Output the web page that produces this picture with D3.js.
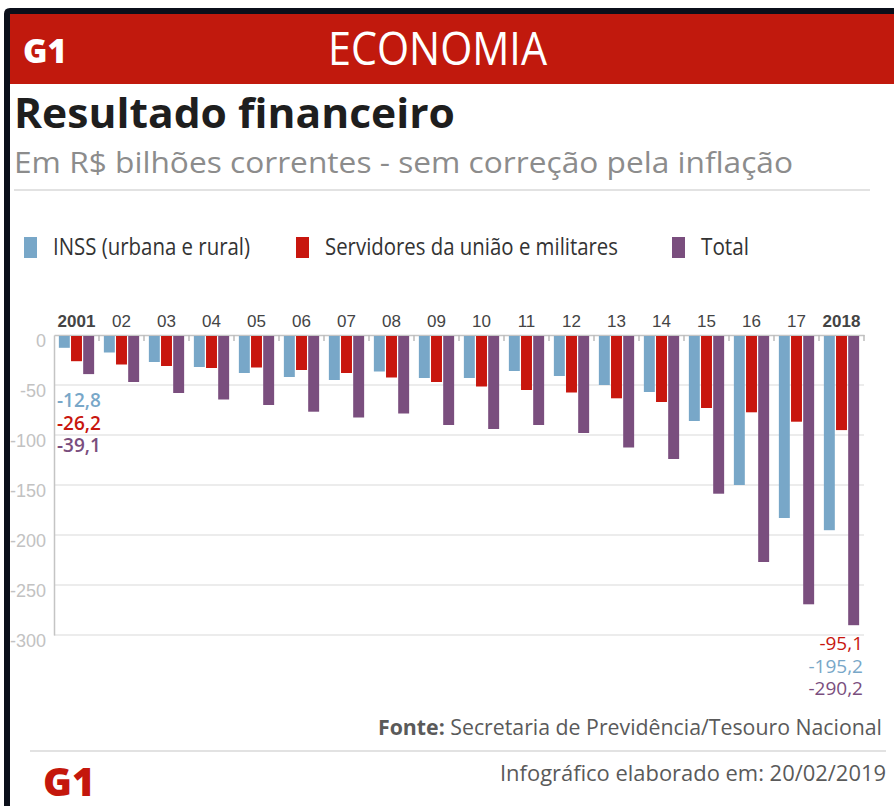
<!DOCTYPE html>
<html>
<head>
<meta charset="utf-8">
<script src="https://cdn.jsdelivr.net/npm/d3@7"></script>
<style>
  body { margin: 0; background: #fff; }
  svg { display: block; font-family: "Open Sans", "Noto Sans", sans-serif; }
</style>
</head>
<body>
<svg id="chart" width="894" height="806"></svg>
<script>
// data (R$ bilhões)
var years = ["2001","02","03","04","05","06","07","08","09","10","11","12","13","14","15","16","17","2018"];
var inss = [-12.8,-17.5,-27,-32,-38,-42,-45,-36.5,-43,-43,-36,-41,-50,-57,-86,-150,-183,-195.2];
var servidores = [-26.2,-29.5,-31,-33,-32.5,-35,-38,-42.5,-47,-51.5,-55,-57.5,-63.3,-67,-73,-77.3,-86.7,-95.1];
var total = [-39.1,-47,-58,-64.5,-70,-76.7,-82.5,-78.5,-90,-94,-90,-98,-112.5,-124,-158.7,-227,-269.3,-290.2];
var seriesNames = ["INSS (urbana e rural)", "Servidores da união e militares", "Total"];
var seriesKeys = ["inss", "serv", "total"];
var colors = ["#78a7c8", "#c8160e", "#7a4e7e"];
var yTicks = [0,-50,-100,-150,-200,-250,-300];

var svg = d3.select("#chart");

// fit a text to a measured width (the original uses a condensed face)
function fit(sel, w) {
  sel.attr("textLength", w).attr("lengthAdjust", "spacingAndGlyphs");
  return sel;
}
// plain hyphen minus, comma decimals
var fmtInt = function(v) { return d3.format("d")(v).replace("\u2212", "-"); };
var fmt = function(v) { return d3.format(".1f")(v).replace("\u2212", "-").replace(".", ","); };

// header
svg.append("rect").attr("x", 10).attr("y", 14).attr("width", 884).attr("height", 70).attr("fill", "#c1190d");
fit(svg.append("text").attr("x", 23).attr("y", 63).attr("fill", "#fff")
  .attr("font-size", 34).attr("font-weight", 800).text("G1"), 44);
fit(svg.append("text").attr("x", 328).attr("y", 65).attr("fill", "#fff")
  .attr("font-size", 46).attr("font-weight", 400).text("ECONOMIA"), 219);

// frame
svg.append("path").attr("d", "M4,806 V14 Q4,8 10,8 H894 V14 H10 V806 Z").attr("fill", "#0b0f1a");

// titles
fit(svg.append("text").attr("x", 14).attr("y", 128).attr("fill", "#1e1e1e")
  .attr("font-size", 42).attr("font-weight", 700).text("Resultado financeiro"), 441);
fit(svg.append("text").attr("x", 14).attr("y", 173).attr("fill", "#8c8c8c")
  .attr("font-size", 29).text("Em R$ bilhões correntes - sem correção pela inflação"), 779);
svg.append("line").attr("x1", 14).attr("x2", 870).attr("y1", 190).attr("y2", 190)
  .attr("stroke", "#e2e2e2").attr("stroke-width", 2);

// legend
var legX = [24, 296, 672];
var legW = [197, 293, 48];
seriesNames.forEach(function(name, i) {
  svg.append("rect").attr("x", legX[i]).attr("y", 237).attr("width", 13).attr("height", 21).attr("fill", colors[i]);
  fit(svg.append("text").attr("x", legX[i] + 29).attr("y", 255).attr("fill", "#333")
    .attr("font-size", 23).text(name), legW[i]);
});

// scales
var x0 = d3.scaleBand().domain(years).range([54, 864]);
var x1 = d3.scaleBand().domain(seriesKeys).range([0, x0.bandwidth()]).paddingInner(0.1).paddingOuter(0.4);
var y = d3.scaleLinear().domain([-300, 0]).range([635, 335]);

// grid
svg.append("g").selectAll("line").data(yTicks.slice(1)).join("line")
  .attr("x1", 54).attr("x2", 864)
  .attr("y1", function(d) { return y(d); }).attr("y2", function(d) { return y(d); })
  .attr("stroke", "#e6e6e6").attr("stroke-width", 1.5);

// y axis labels
var yAxis = svg.append("g").attr("transform", "translate(54,0)")
  .call(d3.axisLeft(y).tickValues(yTicks).tickSize(0).tickPadding(8).tickFormat(fmtInt));
yAxis.select(".domain").attr("stroke", "#c4c4c4").attr("stroke-width", 1.5);
yAxis.selectAll("text").attr("font-size", 18).attr("fill", "#c2c2c2").attr("font-family", null).attr("dy", "0.65em");

// top axis with year labels
var xAxis = svg.append("g").attr("transform", "translate(0,335)")
  .call(d3.axisTop(x0).tickSize(0).tickPadding(8));
xAxis.select(".domain").attr("stroke", "#c4c4c4").attr("stroke-width", 1.5);
xAxis.selectAll("text").attr("font-size", 17).attr("fill", "#444").attr("font-family", null)
  .attr("font-weight", function(d) { return d.length == 4 ? 700 : 400; });

// separator ticks between groups
svg.append("g").selectAll("line").data(years).join("line")
  .attr("x1", function(d) { return x0(d) + x0.step(); })
  .attr("x2", function(d) { return x0(d) + x0.step(); })
  .attr("y1", 335).attr("y2", 341)
  .attr("stroke", "#bdbdbd").attr("stroke-width", 1.5);

// bars
var rows = years.map(function(yr, i) {
  return { year: yr, vals: [inss[i], servidores[i], total[i]] };
});
var groups = svg.append("g").selectAll("g").data(rows).join("g")
  .attr("transform", function(d) { return "translate(" + x0(d.year) + ",0)"; });
groups.selectAll("rect").data(function(d) { return d.vals.map(function(v, k) { return { key: seriesKeys[k], v: v, c: colors[k] }; }); })
  .join("rect")
  .attr("x", function(d) { return x1(d.key); })
  .attr("width", x1.bandwidth())
  .attr("y", y(0) + 1)
  .attr("height", function(d) { return y(d.v) - y(0) - 1; })
  .attr("fill", function(d) { return d.c; });

// value notes for first and last years
[0, 1, 2].forEach(function(k, j) {
  svg.append("text").attr("x", 57).attr("y", 407 + j * 22.5)
    .attr("font-size", 19).attr("font-weight", 600).attr("fill", colors[k])
    .text(fmt(rows[0].vals[k]));
});
[1, 0, 2].forEach(function(k, j) {
  svg.append("text").attr("x", 863).attr("y", 650 + j * 22.5).attr("text-anchor", "end")
    .attr("font-size", 19).attr("fill", colors[k])
    .text(fmt(rows[rows.length - 1].vals[k]));
});

// footer
var src = fit(svg.append("text").attr("x", 378).attr("y", 735).attr("fill", "#5a5a5a").attr("font-size", 21), 504);
src.append("tspan").attr("font-weight", 700).text("Fonte:");
src.append("tspan").text(" Secretaria de Previdência/Tesouro Nacional");
svg.append("line").attr("x1", 30).attr("x2", 886).attr("y1", 751).attr("y2", 751)
  .attr("stroke", "#e2e2e2").attr("stroke-width", 2);
fit(svg.append("text").attr("x", 43).attr("y", 796).attr("fill", "#c4170c")
  .attr("font-size", 38).attr("font-weight", 800).text("G1"), 52);
fit(svg.append("text").attr("x", 500).attr("y", 781).attr("fill", "#5a5a5a")
  .attr("font-size", 21).text("Infográfico elaborado em: 20/02/2019"), 386);
</script>
</body>
</html>
